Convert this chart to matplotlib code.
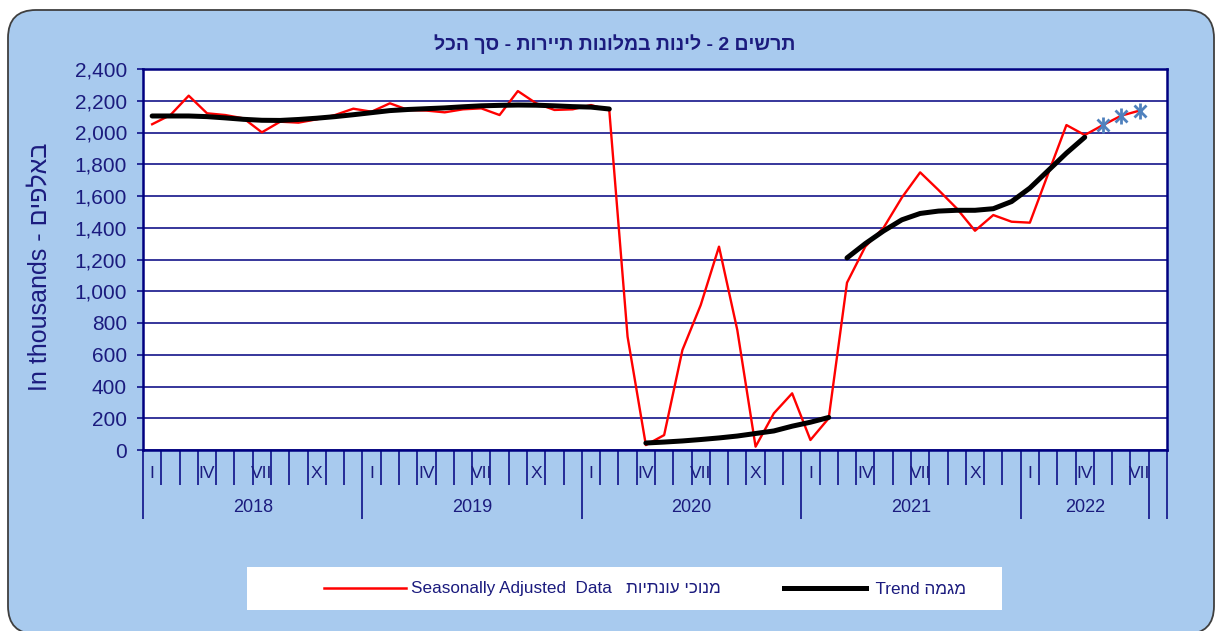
import numpy as np
import matplotlib
matplotlib.use("Agg")
import matplotlib.pyplot as plt
from matplotlib.patches import FancyBboxPatch, Rectangle
from matplotlib.lines import Line2D
from matplotlib.ticker import FuncFormatter
from matplotlib.transforms import IdentityTransform, blended_transform_factory

plt.rcParams["font.family"] = ["Liberation Sans", "DejaVu Sans"]

# ===============================
# data (thousands of hotel nights), Jan 2018 .. Jul 2022
# ===============================
years = ["2018", "2019", "2020", "2021", "2022"]
months_per_year = [12, 12, 12, 12, 7]
month_marks = {1: "I", 4: "IV", 7: "VII", 10: "X"}

seasonally_adjusted = [
    2052, 2110, 2232, 2121, 2110, 2089, 2001, 2068, 2062, 2083, 2110, 2150,
    2131, 2184, 2142, 2138, 2127, 2146, 2152, 2110, 2261, 2184, 2142, 2146,
    2173, 2140, 714, 31, 94, 630, 913, 1281, 756, 21, 231, 357,
    63, 200, 1054, 1281, 1400, 1590, 1749, 1638, 1522, 1381, 1480, 1438,
    1432, 1740, 2047, 1984, 2047, 2106, 2138,
]
n_provisional = 3  # last months drawn with star markers

# trend is published in three separate pieces
trend_pre_start = 0
trend_pre = [2104, 2104, 2104, 2100, 2092, 2083, 2077, 2076, 2082, 2090, 2100, 2112,
             2125, 2138, 2145, 2150, 2155, 2162, 2168, 2171, 2173, 2172, 2168, 2163,
             2160, 2148]
trend_covid_start = 27
trend_covid = [44, 50, 57, 66, 76, 88, 104, 120, 150, 175, 205]
trend_post_start = 38
trend_post = [1210, 1300, 1380, 1450, 1490, 1505, 1510, 1510, 1520, 1565,
              1650, 1760, 1870, 1970]

TITLE = "תרשים 2 - לינות במלונות תיירות - סך הכל"
YLAB_EN = "In thousands - "
YLAB_HE = "באלפים"
LEG_SA_EN = "Seasonally Adjusted  Data   "
LEG_SA_HE = "מנוכי עונתיות"
LEG_TR_EN = " Trend "
LEG_TR_HE = "מגמה"


def heb(s):
    # matplotlib has no bidi: put hebrew into visual (left-to-right) order
    words = s.split(" ")
    out = []
    for w in reversed(words):
        if any("\u0590" <= c <= "\u05ff" for c in w):
            out.append(w[::-1])
        else:
            out.append(w)
    return " ".join(out)


NAVY = "#000080"
TXT = "#1b1b7e"
BG = "#a8caee"

W, H = 1217, 631
fig = plt.figure(figsize=(W / 100, H / 100), dpi=100)
fig.patch.set_facecolor("white")

# rounded light-blue chart area
bg = FancyBboxPatch((8, -3), 1206, 624, boxstyle="round,pad=0,rounding_size=28",
                    transform=IdentityTransform(), facecolor=BG,
                    edgecolor="#3f3f3f", linewidth=1.3, zorder=0)
fig.add_artist(bg)

ax = fig.add_axes([143 / W, (H - 450) / H, 1024 / W, 381 / H])
ax.set_facecolor("white")

n_slots = sum(months_per_year) + 1
x = np.arange(len(seasonally_adjusted)) + 0.5
sa = np.array(seasonally_adjusted, dtype=float)

ax.plot(x, sa, color="#ff0000", lw=1.7, zorder=3)
for start, seg in [(trend_pre_start, trend_pre),
                   (trend_covid_start, trend_covid),
                   (trend_post_start, trend_post)]:
    xs = np.arange(start, start + len(seg)) + 0.5
    ax.plot(xs, seg, color="black", lw=3.6, solid_capstyle="round", zorder=4)

STAR = "#4f81bd"
ax.plot(x[-n_provisional:], sa[-n_provisional:], ls="none", marker="x",
        ms=8, mew=2, color=STAR, zorder=5)
ax.plot(x[-n_provisional:], sa[-n_provisional:], ls="none", marker="|",
        ms=11, mew=2, color=STAR, zorder=5)

ax.set_xlim(0, n_slots)
ax.set_ylim(0, 2400)
ax.set_yticks(np.arange(0, 2401, 200))
ax.yaxis.set_major_formatter(FuncFormatter(lambda v, p: f"{int(v):,}"))
ax.grid(axis="y", color=NAVY, lw=1.1)
ax.set_axisbelow(True)
for sp in ax.spines.values():
    sp.set_color(NAVY)
    sp.set_linewidth(1.8)

ax.tick_params(axis="y", direction="out", length=4.5, width=1.1, color=NAVY,
               labelcolor=TXT, labelsize=15, pad=7)

# multi-level category axis: month ticks + year separators
bounds = np.cumsum([0] + months_per_year)
ax.set_xticks(list(bounds) + [n_slots])
ax.set_xticks(np.arange(0, n_slots + 1), minor=True)
ax.tick_params(axis="x", which="major", direction="out", length=50, width=1.1,
               color=NAVY, labelbottom=False)
ax.tick_params(axis="x", which="minor", direction="out", length=25, width=1.1,
               color=NAVY, labelbottom=False)

trans = blended_transform_factory(ax.transData, ax.transAxes)
for y0, nm, yr in zip(bounds[:-1], months_per_year, years):
    for m in range(1, nm + 1):
        if m in month_marks:
            ax.text(y0 + m - 0.5, -23 / 381, month_marks[m], transform=trans,
                    ha="center", va="center", fontsize=12.5, color=TXT)
    ax.text(y0 + nm / 2, -58 / 381, yr, transform=trans, ha="center",
            va="center", fontsize=13, color=TXT)

# title and axis title
fig.text(615 / W, (H - 44) / H, heb(TITLE), ha="center", va="center",
         fontsize=14, fontweight="bold", color=TXT)
fig.text(39 / W, (H - 267) / H, YLAB_EN + heb(YLAB_HE), rotation=90,
         ha="center", va="center", fontsize=18, color=TXT)

# legend on a white strip
fig.add_artist(Rectangle((247, 21), 755, 43, transform=IdentityTransform(),
                         facecolor="white", edgecolor="none", zorder=1))
handles = [Line2D([], [], color="#ff0000", lw=1.8),
           Line2D([], [], color="black", lw=3.6)]
labels = [LEG_SA_EN + heb(LEG_SA_HE), LEG_TR_EN + heb(LEG_TR_HE)]
leg = fig.legend(handles, labels, loc="center", bbox_to_anchor=(645 / W, 42 / H),
                 ncol=2, frameon=False, fontsize=12.3, handlelength=4.8,
                 handletextpad=0.3, columnspacing=3.7, labelcolor=TXT)

fig.savefig("out.png", dpi=100)
